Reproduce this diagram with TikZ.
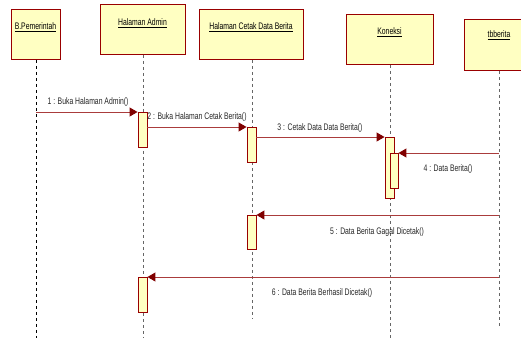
\documentclass[tikz,border=0pt]{standalone}
\usepackage{fontspec}
\setmainfont[FakeStretch=0.72]{Liberation Sans}
\usetikzlibrary{arrows.meta}
\definecolor{boxfill}{RGB}{255,255,194}
\definecolor{boxdraw}{RGB}{153,0,0}
\definecolor{msgline}{RGB}{170,60,60}
\definecolor{tipcol}{RGB}{128,0,0}
\tikzset{
  head/.style={draw=boxdraw, fill=boxfill, line width=0.9pt, inner sep=0pt, anchor=north west},
  headtext/.style={font=\fontsize{9.5}{11}\selectfont, anchor=north},
  act/.style={draw=boxdraw, fill=boxfill, line width=0.9pt, inner sep=0pt, minimum width=9pt, anchor=north},
  life/.style={line width=1pt, dash pattern=on 3pt off 3pt, draw=gray!80!black},
  msg/.style={draw=msgline, line width=1pt, -{Triangle[length=8pt,width=9pt,fill=tipcol,color=tipcol]}},
  lbl/.style={font=\fontsize{9.5}{11}\selectfont, text=black!85}
}
\begin{document}
\begin{tikzpicture}[x=1pt,y=-1pt]
\useasboundingbox (0,0) rectangle (521,338);
\clip (0,0) rectangle (521,338);
% headers
\node[head, minimum width=49pt, minimum height=50pt] (bp) at (11,9) {};
\node[headtext] at (35.5,19) {\underline{B.Pemerintah}};
\node[head, minimum width=85pt, minimum height=50pt] (ha) at (100,4) {};
\node[headtext] at (142.5,15) {\underline{Halaman Admin}};
\node[head, minimum width=104pt, minimum height=50pt] (hc) at (199,9) {};
\node[headtext] at (251,19) {\underline{Halaman Cetak Data Berita}};
\node[head, minimum width=87pt, minimum height=50pt] (ko) at (346,14) {};
\node[headtext] at (389.5,24) {\underline{Koneksi}};
\node[head, minimum width=70pt, minimum height=51pt] (tb) at (464,19) {};
\node[headtext] at (499,27) {\underline{tbberita}};
% lifeline ends
\coordinate (bpE) at (36,338);
\coordinate (haE) at (143,338);
\coordinate (hcE) at (252,318);
\coordinate (koE) at (390,338);
\coordinate (tbE) at (499,328);
\draw[life, draw=black] (bp.south -| bpE) -- (bpE);
\draw[life] (ha.south -| haE) -- (haE);
\draw[life] (hc.south -| hcE) -- (hcE);
\draw[life] (ko.south -| koE) -- (koE);
\draw[life] (tb.south -| tbE) -- (tbE);
% activations
\node[act, minimum height=35pt] (a1) at (142.5,112) {};
\node[act, minimum height=35pt] (c1) at (251.5,127) {};
\node[act, minimum height=61pt] (k1) at (389.5,137) {};
\node[act, minimum height=35pt, minimum width=8pt] (k2) at (394,153) {};
\node[act, minimum height=34pt] (c2) at (251.5,215) {};
\node[act, minimum height=35pt] (a2) at (142.5,277) {};
% message sources
\coordinate (m1s) at (36,112);
\coordinate (m4s) at (499,153);
\coordinate (m5s) at (499,215);
\coordinate (m6s) at (499,277);
% messages
\draw[msg] (m1s) -- (a1.north west);
\node[lbl] at (88,102) {1 : Buka Halaman Admin()};
\draw[msg] (a1.east |- c1.north) -- (c1.north west);
\node[lbl] at (197,117) {2 : Buka Halaman Cetak Berita()};
\draw[msg] (c1.east |- k1.north) -- (k1.north west);
\node[lbl] at (320,128) {3 : Cetak Data Data Berita()};
\draw[msg] (m4s) -- (k2.north east);
\node[lbl] at (448,169) {4 : Data Berita()};
\draw[msg] (m5s) -- (c2.north east);
\node[lbl] at (377,232) {5 : Data Berita Gagal Dicetak()};
\draw[msg] (m6s) -- (a2.north east);
\node[lbl] at (322,293) {6 : Data Berita Berhasil Dicetak()};
\end{tikzpicture}
\end{document}
